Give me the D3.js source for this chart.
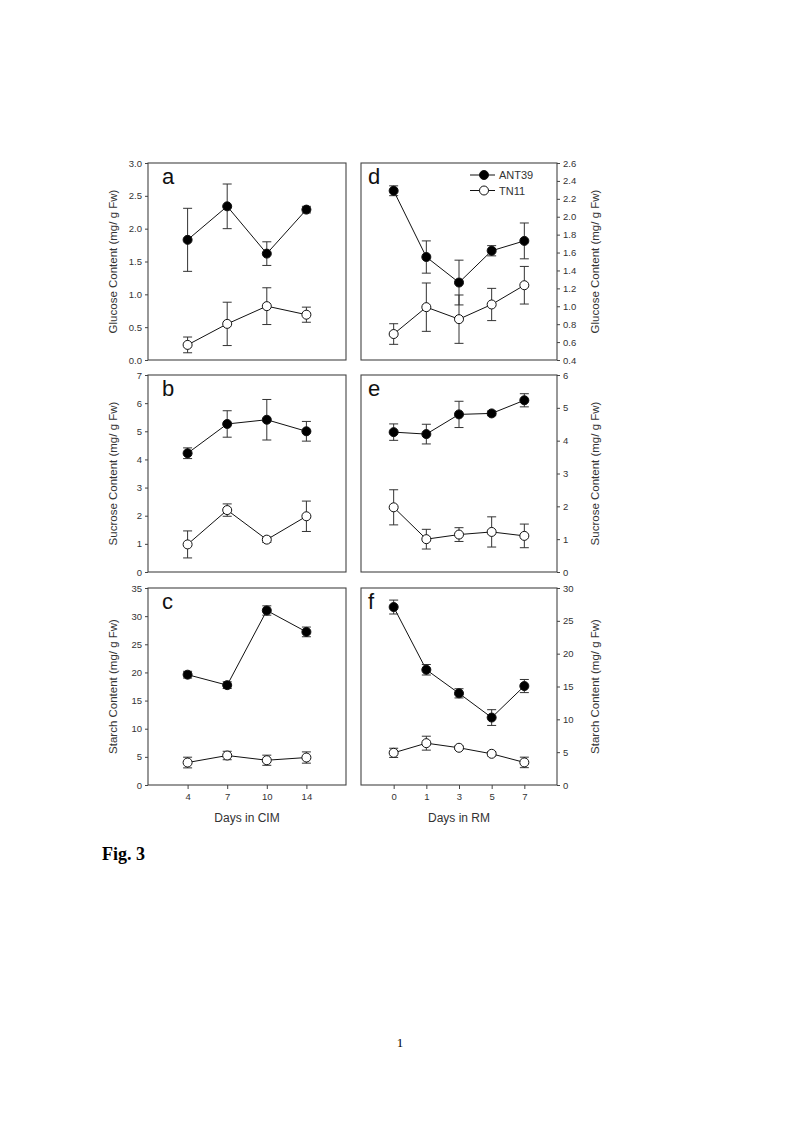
<!DOCTYPE html>
<html>
<head>
<meta charset="utf-8">
<script src="https://cdn.jsdelivr.net/npm/d3@7"></script>
<style>
  body { margin: 0; background: #fff; }
  svg { display: block; }
</style>
</head>
<body>
<div id="fig"></div>
<script>
// x categories
const daysCIM = ["4", "7", "10", "14"];
const daysRM = ["0", "1", "3", "5", "7"];

// glucose
const gluCIM_ANT39 = [1.83, 2.34, 1.62, 2.29];
const gluCIM_ANT39_err = [0.48, 0.34, 0.18, 0.05];
const gluCIM_TN11 = [0.23, 0.55, 0.82, 0.69];
const gluCIM_TN11_err = [0.12, 0.33, 0.28, 0.115];
const gluRM_ANT39 = [2.29, 1.55, 1.265, 1.62, 1.73];
const gluRM_ANT39_err = [0.055, 0.18, 0.25, 0.057, 0.2];
const gluRM_TN11 = [0.69, 0.99, 0.856, 1.02, 1.235];
const gluRM_TN11_err = [0.115, 0.27, 0.27, 0.18, 0.21];

// sucrose
const sucCIM_ANT39 = [4.22, 5.26, 5.41, 5.0];
const sucCIM_ANT39_err = [0.19, 0.47, 0.72, 0.35];
const sucCIM_TN11 = [0.98, 2.2, 1.15, 1.98];
const sucCIM_TN11_err = [0.48, 0.22, 0.1, 0.54];
const sucRM_ANT39 = [4.26, 4.2, 4.8, 4.83, 5.23];
const sucRM_ANT39_err = [0.25, 0.3, 0.4, 0.07, 0.2];
const sucRM_TN11 = [1.97, 1.0, 1.14, 1.22, 1.1];
const sucRM_TN11_err = [0.535, 0.3, 0.21, 0.46, 0.36];

// starch
const staCIM_ANT39 = [19.6, 17.74, 31.0, 27.2];
const staCIM_ANT39_err = [0.6, 0.6, 0.83, 0.86];
const staCIM_TN11 = [3.99, 5.24, 4.4, 4.88];
const staCIM_TN11_err = [0.95, 0.75, 0.9, 1.0];
const staRM_ANT39 = [27.1, 17.55, 13.96, 10.27, 15.07];
const staRM_ANT39_err = [1.06, 0.8, 0.7, 1.2, 1.0];
const staRM_TN11 = [4.9, 6.37, 5.67, 4.75, 3.44];
const staRM_TN11_err = [0.7, 1.06, 0.25, 0.3, 0.8];

// y tick values
const ticksA = [0, 0.5, 1.0, 1.5, 2.0, 2.5, 3.0];
const ticksD = [0.4, 0.6, 0.8, 1.0, 1.2, 1.4, 1.6, 1.8, 2.0, 2.2, 2.4, 2.6];
const ticksB = [0, 1, 2, 3, 4, 5, 6, 7];
const ticksE = [0, 1, 2, 3, 4, 5, 6];
const ticksC = [0, 5, 10, 15, 20, 25, 30, 35];
const ticksF = [0, 5, 10, 15, 20, 25, 30];

const seriesNames = ["ANT39", "TN11"];

const svg = d3.select("#fig").append("svg")
  .attr("width", 800)
  .attr("height", 1132);

const colL = { x0: 148, x1: 346 };
const colR = { x0: 361, x1: 557 };
const rows = [{ y0: 163, y1: 360 }, { y0: 375, y1: 572 }, { y0: 588, y1: 785 }];

const panels = [
  { letter: "a", col: colL, row: rows[0], side: "left", days: daysCIM, dom: [0, 3], ticks: ticksA, fmt: ".1f",
    title: "Glucose Content (mg/ g Fw)", s1: gluCIM_ANT39, e1: gluCIM_ANT39_err, s2: gluCIM_TN11, e2: gluCIM_TN11_err },
  { letter: "d", col: colR, row: rows[0], side: "right", days: daysRM, dom: [0.4, 2.6], ticks: ticksD, fmt: ".1f",
    title: "Glucose Content (mg/ g Fw)", s1: gluRM_ANT39, e1: gluRM_ANT39_err, s2: gluRM_TN11, e2: gluRM_TN11_err, legend: true },
  { letter: "b", col: colL, row: rows[1], side: "left", days: daysCIM, dom: [0, 7], ticks: ticksB, fmt: "d",
    title: "Sucrose Content (mg/ g Fw)", s1: sucCIM_ANT39, e1: sucCIM_ANT39_err, s2: sucCIM_TN11, e2: sucCIM_TN11_err },
  { letter: "e", col: colR, row: rows[1], side: "right", days: daysRM, dom: [0, 6], ticks: ticksE, fmt: "d",
    title: "Sucrose Content (mg/ g Fw)", s1: sucRM_ANT39, e1: sucRM_ANT39_err, s2: sucRM_TN11, e2: sucRM_TN11_err },
  { letter: "c", col: colL, row: rows[2], side: "left", days: daysCIM, dom: [0, 35], ticks: ticksC, fmt: "d",
    title: "Starch Content (mg/ g Fw)", s1: staCIM_ANT39, e1: staCIM_ANT39_err, s2: staCIM_TN11, e2: staCIM_TN11_err,
    xTitle: "Days in CIM" },
  { letter: "f", col: colR, row: rows[2], side: "right", days: daysRM, dom: [0, 30], ticks: ticksF, fmt: "d",
    title: "Starch Content (mg/ g Fw)", s1: staRM_ANT39, e1: staRM_ANT39_err, s2: staRM_TN11, e2: staRM_TN11_err,
    xTitle: "Days in RM" }
];

const font = "Liberation Sans, Arial, sans-serif";

panels.forEach(p => {
  const x = d3.scalePoint().domain(p.days).range([p.col.x0, p.col.x1]).padding(1);
  const y = d3.scaleLinear().domain(p.dom).range([p.row.y1, p.row.y0]);

  // y axis
  const yAxis = (p.side === "left" ? d3.axisLeft(y) : d3.axisRight(y))
    .tickValues(p.ticks).tickFormat(d3.format(p.fmt)).tickSize(3).tickPadding(3);
  const ya = svg.append("g")
    .attr("transform", `translate(${p.side === "left" ? p.col.x0 : p.col.x1},0)`)
    .call(yAxis);
  ya.select(".domain").remove();
  ya.selectAll("line").attr("stroke", "#444");
  ya.selectAll("text").attr("fill", "#333").style("font-family", font).style("font-size", "9.5px");

  // y title
  const tx = p.side === "left" ? 113 : 595;
  svg.append("text")
    .attr("transform", `translate(${tx},${(p.row.y0 + p.row.y1) / 2}) rotate(-90)`)
    .attr("text-anchor", "middle")
    .attr("dominant-baseline", "central")
    .attr("fill", "#333")
    .style("font-family", font).style("font-size", "11.5px")
    .text(p.title);

  // x axis (bottom row only)
  if (p.xTitle) {
    const xa = svg.append("g")
      .attr("transform", `translate(0,${p.row.y1})`)
      .call(d3.axisBottom(x).tickSize(4).tickPadding(4));
    xa.select(".domain").remove();
    xa.selectAll("line").attr("stroke", "#444");
    xa.selectAll("text").attr("fill", "#333").style("font-family", font).style("font-size", "9.5px");
    svg.append("text")
      .attr("x", (p.col.x0 + p.col.x1) / 2)
      .attr("y", 822)
      .attr("text-anchor", "middle")
      .attr("fill", "#333")
      .style("font-family", font).style("font-size", "12px")
      .text(p.xTitle);
  }

  // frame
  svg.append("rect")
    .attr("x", p.col.x0).attr("y", p.row.y0)
    .attr("width", p.col.x1 - p.col.x0).attr("height", p.row.y1 - p.row.y0)
    .attr("fill", "none").attr("stroke", "#444").attr("stroke-width", 1.1);

  // panel letter
  svg.append("text")
    .attr("x", p.col.x0 + (p.side === "left" ? 14 : 7))
    .attr("y", p.row.y0 + 21)
    .attr("fill", "#111")
    .style("font-family", font).style("font-size", "22px")
    .text(p.letter);

  const series = [
    { vals: p.s1, errs: p.e1, fill: "#000" },
    { vals: p.s2, errs: p.e2, fill: "#fff" }
  ];

  const line = d3.line().x((d, i) => x(p.days[i])).y(d => y(d));

  series.forEach(s => {
    svg.append("path")
      .datum(s.vals)
      .attr("d", line)
      .attr("fill", "none")
      .attr("stroke", "#111")
      .attr("stroke-width", 1);

    const eb = svg.append("g").attr("stroke", "#333").attr("stroke-width", 1);
    s.vals.forEach((v, i) => {
      const cx = x(p.days[i]);
      const hi = y(v + s.errs[i]), lo = y(v - s.errs[i]);
      eb.append("line").attr("x1", cx).attr("x2", cx).attr("y1", hi).attr("y2", lo);
      eb.append("line").attr("x1", cx - 4.5).attr("x2", cx + 4.5).attr("y1", hi).attr("y2", hi);
      eb.append("line").attr("x1", cx - 4.5).attr("x2", cx + 4.5).attr("y1", lo).attr("y2", lo);
    });
  });

  series.forEach(s => {
    svg.append("g").selectAll("circle")
      .data(s.vals)
      .join("circle")
      .attr("cx", (d, i) => x(p.days[i]))
      .attr("cy", d => y(d))
      .attr("r", 4.5)
      .attr("fill", s.fill)
      .attr("stroke", "#111")
      .attr("stroke-width", 1);
  });

  // legend
  if (p.legend) {
    seriesNames.forEach((name, i) => {
      const ly = 175 + i * 15.5;
      svg.append("line")
        .attr("x1", 470).attr("x2", 495).attr("y1", ly).attr("y2", ly)
        .attr("stroke", "#111").attr("stroke-width", 1);
      svg.append("circle")
        .attr("cx", 484).attr("cy", ly).attr("r", 4.5)
        .attr("fill", series[i].fill).attr("stroke", "#111");
      svg.append("text")
        .attr("x", 499).attr("y", ly)
        .attr("dominant-baseline", "central")
        .attr("fill", "#333")
        .style("font-family", font).style("font-size", "11px")
        .text(name);
    });
  }
});

// figure caption and page number
svg.append("text")
  .attr("x", 102).attr("y", 860)
  .attr("fill", "#000")
  .style("font-family", "Liberation Serif, Times New Roman, serif")
  .style("font-size", "18px").style("font-weight", "bold")
  .text("Fig. 3");

svg.append("text")
  .attr("x", 400).attr("y", 1047)
  .attr("text-anchor", "middle")
  .attr("fill", "#000")
  .style("font-family", "Liberation Serif, Times New Roman, serif")
  .style("font-size", "13px")
  .text("1");
</script>
</body>
</html>
